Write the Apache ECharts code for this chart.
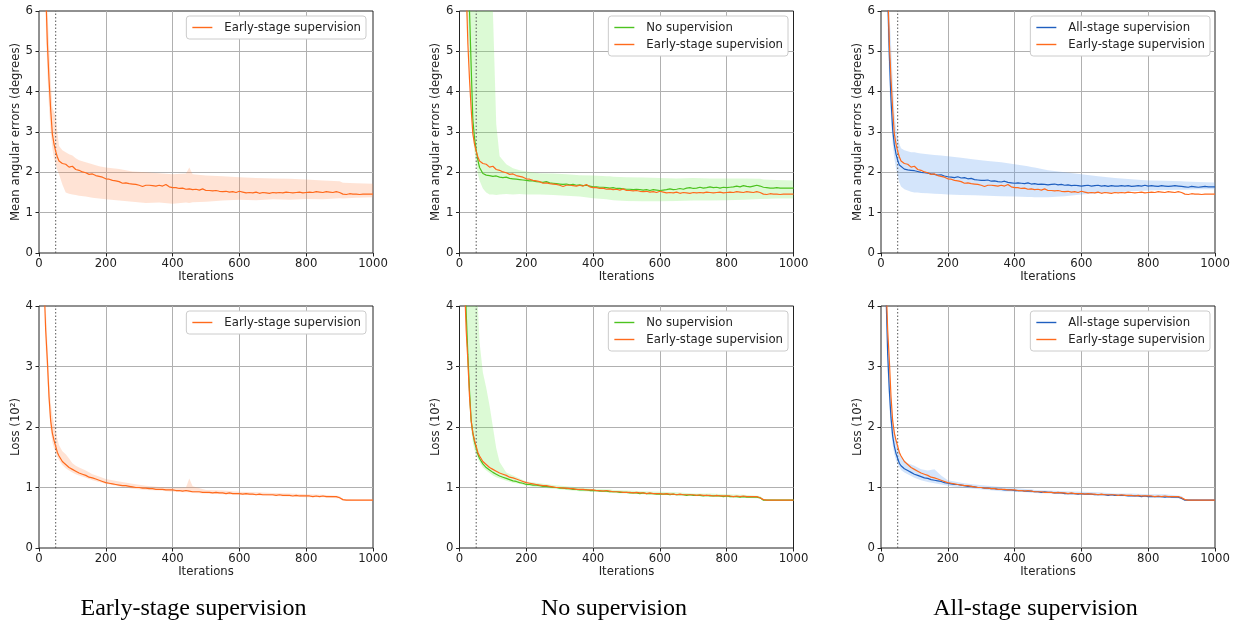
<!DOCTYPE html>
<html>
<head>
<meta charset="utf-8">
<script src="https://cdn.jsdelivr.net/npm/echarts@6/dist/echarts.min.js"></script>
<style>
html,body{margin:0;padding:0;background:#fff;}
#c{width:1238px;height:626px;}
</style>
</head>
<body>
<div id="c"></div>
<script>
// ---------- data ----------
const ITER = [10,15,20,25,30,35,40,45,50,55,
  60,70,80,90,100,110,120,130,140,150,160,170,180,190,200,
  210,220,230,240,250,260,270,280,290,300,
  310,320,330,340,350,360,370,380,390,400,
  410,420,430,440,450,460,470,480,490,500,
  510,520,530,540,550,560,570,580,590,600,
  610,620,630,640,650,660,670,680,690,700,
  710,720,730,740,750,760,770,780,790,800,
  810,820,830,840,850,860,870,880,890,900,
  910,920,930,940,950,960,970,980,990,1000];

// Mean angular errors (degrees)
const errEarly = [11,8.5,6.6,5.2,4.3,3.55,2.95,2.7,2.52,2.38,
  2.28,2.22,2.20,2.13,2.15,2.07,2.05,2.01,1.99,1.95,1.96,1.92,1.90,1.88,1.84,
  1.83,1.80,1.79,1.77,1.73,1.74,1.72,1.71,1.70,1.68,
  1.65,1.68,1.68,1.67,1.66,1.68,1.66,1.70,1.64,1.62,
  1.62,1.60,1.61,1.58,1.59,1.57,1.58,1.56,1.59,1.55,
  1.55,1.54,1.55,1.53,1.52,1.53,1.51,1.52,1.50,1.53,
  1.51,1.49,1.50,1.49,1.51,1.48,1.50,1.49,1.48,1.50,
  1.49,1.50,1.49,1.51,1.50,1.49,1.50,1.51,1.49,1.50,
  1.51,1.50,1.52,1.51,1.50,1.52,1.51,1.50,1.52,1.50,
  1.46,1.45,1.47,1.46,1.46,1.45,1.46,1.46,1.46,1.46];
const errNone = [14,11,9,7.3,6.0,4.6,3.3,2.85,2.55,2.3,
  2.12,1.97,1.93,1.92,1.90,1.91,1.88,1.87,1.88,1.85,1.84,1.83,1.82,1.81,1.80,
  1.79,1.79,1.77,1.76,1.75,1.77,1.74,1.73,1.72,1.71,
  1.70,1.71,1.69,1.70,1.68,1.69,1.67,1.68,1.66,1.64,
  1.64,1.63,1.63,1.62,1.61,1.62,1.60,1.60,1.59,1.58,
  1.58,1.57,1.58,1.57,1.56,1.57,1.55,1.57,1.56,1.55,
  1.56,1.57,1.59,1.57,1.58,1.60,1.58,1.61,1.62,1.60,
  1.61,1.63,1.61,1.62,1.64,1.62,1.63,1.61,1.63,1.62,
  1.63,1.64,1.66,1.64,1.67,1.65,1.64,1.66,1.68,1.66,
  1.63,1.62,1.61,1.61,1.62,1.61,1.61,1.61,1.61,1.61];
const errAll = [11,8.5,6.4,4.9,3.8,3.05,2.68,2.45,2.3,2.18,
  2.14,2.08,2.06,2.05,2.04,2.02,2.00,1.99,1.98,1.96,1.95,1.93,1.94,1.91,1.89,
  1.88,1.87,1.89,1.86,1.87,1.84,1.85,1.82,1.81,1.80,
  1.80,1.81,1.78,1.79,1.77,1.76,1.78,1.75,1.74,1.73,
  1.74,1.73,1.72,1.74,1.71,1.72,1.70,1.71,1.70,1.69,
  1.70,1.71,1.69,1.70,1.68,1.69,1.67,1.68,1.67,1.66,
  1.67,1.68,1.66,1.67,1.68,1.66,1.67,1.65,1.67,1.66,
  1.66,1.67,1.66,1.67,1.65,1.66,1.67,1.66,1.68,1.66,
  1.67,1.66,1.65,1.67,1.66,1.65,1.66,1.67,1.66,1.65,
  1.64,1.63,1.65,1.64,1.63,1.64,1.65,1.64,1.64,1.64];

// Loss (10^2)
const lossEarly = [7,4.4,3.6,3.1,2.5,2.1,1.9,1.78,1.68,1.58,
  1.52,1.43,1.38,1.33,1.30,1.27,1.24,1.22,1.20,1.17,1.16,1.14,1.12,1.10,1.08,
  1.07,1.06,1.05,1.04,1.03,1.03,1.02,1.01,1.00,1.00,
  0.99,0.99,0.98,0.98,0.97,0.97,0.97,0.96,0.96,0.96,
  0.95,0.95,0.94,0.95,0.94,0.93,0.93,0.93,0.92,0.92,
  0.92,0.91,0.92,0.91,0.91,0.90,0.91,0.90,0.90,0.90,
  0.89,0.90,0.89,0.89,0.88,0.89,0.88,0.88,0.88,0.88,
  0.87,0.88,0.87,0.87,0.87,0.86,0.87,0.86,0.86,0.86,
  0.86,0.85,0.86,0.85,0.86,0.85,0.85,0.85,0.85,0.83,
  0.80,0.79,0.79,0.79,0.79,0.79,0.79,0.79,0.79,0.79];
const lossNone = [8,5.2,3.9,3.2,2.6,2.1,1.9,1.75,1.65,1.55,
  1.48,1.39,1.33,1.29,1.25,1.22,1.19,1.17,1.15,1.13,1.11,1.10,1.08,1.07,1.05,
  1.05,1.04,1.04,1.03,1.02,1.02,1.01,1.00,1.00,0.99,
  0.99,0.98,0.98,0.97,0.97,0.96,0.96,0.96,0.95,0.95,
  0.95,0.94,0.94,0.94,0.93,0.93,0.93,0.92,0.92,0.92,
  0.91,0.91,0.91,0.90,0.91,0.90,0.90,0.90,0.89,0.89,
  0.89,0.89,0.88,0.89,0.88,0.88,0.88,0.87,0.88,0.87,
  0.87,0.87,0.86,0.87,0.86,0.86,0.86,0.86,0.85,0.86,
  0.85,0.85,0.85,0.84,0.85,0.84,0.84,0.84,0.84,0.83,
  0.79,0.79,0.79,0.79,0.79,0.79,0.79,0.79,0.79,0.79];
const lossAll = [6,4.2,3.2,2.6,2.15,1.85,1.68,1.56,1.48,1.40,
  1.36,1.31,1.28,1.25,1.22,1.20,1.18,1.16,1.15,1.13,1.12,1.11,1.10,1.08,1.07,
  1.06,1.05,1.05,1.04,1.03,1.02,1.02,1.01,1.00,1.00,
  0.99,0.99,0.98,0.98,0.97,0.97,0.96,0.96,0.96,0.95,
  0.95,0.95,0.94,0.94,0.94,0.93,0.93,0.92,0.93,0.92,
  0.92,0.91,0.91,0.91,0.90,0.90,0.90,0.90,0.89,0.90,
  0.89,0.89,0.89,0.88,0.88,0.88,0.88,0.87,0.88,0.87,
  0.87,0.87,0.87,0.86,0.86,0.86,0.86,0.85,0.86,0.85,
  0.85,0.85,0.85,0.85,0.84,0.85,0.84,0.84,0.84,0.82,
  0.79,0.79,0.79,0.79,0.79,0.79,0.79,0.79,0.79,0.79];

// Shaded spread bands (low / high edges)
const BAND_ITER = [20,25,30,35,40,45,50,55,60,70,80,90,100,110,120,140,160,180,200,240,280,320,360,400,440,450,460,500,550,600,650,700,750,800,850,900,910,950,1000];
const errEarlyLo = [5.8,4.5,3.6,3.0,2.6,2.35,2.2,2.05, 1.95,1.7,1.5,1.47,1.45,1.44,1.42, 1.40,1.37,1.35,1.33, 1.30,1.27,1.24,1.25,1.22, 1.25,1.24,1.26, 1.27,1.30,1.32,1.31,1.33,1.32,1.34,1.33,1.36, 1.35,1.37,1.38];
const errEarlyHi = [8,6.5,5.2,4.3,3.6,3.5,3.4,3.0, 2.65,2.55,2.5,2.45,2.42,2.35,2.3, 2.25,2.2,2.15,2.12, 2.08,2.02,2.0,1.98,1.95, 1.97,2.12,1.95, 1.92,1.9,1.88,1.86,1.85,1.84,1.82,1.8,1.78, 1.74,1.73,1.72];
const errNoneLo = [7,5.5,4.6,3.6,2.9,2.5,2.2,1.95, 1.8,1.6,1.5,1.45,1.45,1.44,1.45, 1.46,1.45,1.46,1.45, 1.45,1.44,1.42,1.40,1.36, 1.33,1.32,1.31, 1.29,1.28,1.28,1.29,1.30,1.30,1.31,1.32,1.34, 1.34,1.35,1.35];
const errNoneHi = [12,12,12,12,12,12,12,12, 12,12,12,12,9,3.2,2.4, 2.2,2.1,2.05,2.02, 1.98,1.97,1.95,1.93,1.92, 1.9,1.9,1.89, 1.88,1.87,1.86,1.85,1.86,1.85,1.85,1.85,1.84, 1.82,1.81,1.8];
const errAllLo = [5.5,4.2,3.3,2.7,2.35,2.1,1.9,1.75, 1.65,1.58,1.55,1.52,1.5,1.5,1.49, 1.48,1.47,1.46,1.45, 1.44,1.43,1.42,1.41,1.40, 1.39,1.39,1.38, 1.38,1.41,1.45,1.48,1.50,1.53,1.55,1.56,1.57, 1.57,1.58,1.58];
const errAllHi = [8,6.5,5.2,4.3,3.5,3.1,2.85,2.7, 2.6,2.55,2.52,2.5,2.5,2.48,2.47, 2.45,2.43,2.42,2.4, 2.36,2.32,2.28,2.25,2.2, 2.15,2.13,2.12, 2.05,2.0,1.95,1.9,1.86,1.83,1.8,1.79,1.78, 1.77,1.76,1.75];
const lossEarlyLo = [3.3,2.85,2.3,1.95,1.75,1.65,1.58,1.5, 1.45,1.37,1.32,1.28,1.25,1.22,1.2, 1.16,1.12,1.09,1.06, 1.02,0.98,0.96,0.95,0.93, 0.92,0.92,0.91, 0.9,0.89,0.88,0.87,0.86,0.85,0.84,0.84,0.82, 0.78,0.78,0.78];
const lossEarlyHi = [4.0,3.4,2.8,2.4,2.2,2.05,1.95,1.8, 1.7,1.6,1.55,1.48,1.4,1.36,1.33, 1.28,1.22,1.18,1.14, 1.10,1.06,1.03,1.01,0.99, 1.0,1.15,1.02, 0.96,0.95,0.93,0.92,0.91,0.9,0.89,0.88,0.86, 0.81,0.8,0.8];
const lossNoneLo = [3.5,2.9,2.35,1.95,1.75,1.62,1.55,1.47, 1.42,1.33,1.28,1.24,1.2,1.17,1.15, 1.11,1.08,1.06,1.03, 1.0,0.98,0.96,0.94,0.93, 0.92,0.91,0.91, 0.9,0.89,0.88,0.87,0.86,0.85,0.84,0.83,0.82, 0.78,0.78,0.78];
const lossNoneHi = [5,4.6,4.4,4.3,4.2,4.15,4.1,4.0, 3.4,2.9,2.65,2.35,2.0,1.65,1.42, 1.25,1.2,1.15,1.1, 1.07,1.04,1.02,1.0,0.98, 0.97,0.97,0.96, 0.95,0.94,0.93,0.92,0.9,0.9,0.89,0.88,0.86, 0.81,0.8,0.8];
const lossAllLo = [2.9,2.35,1.95,1.7,1.55,1.45,1.38,1.33, 1.29,1.25,1.22,1.19,1.16,1.14,1.12, 1.09,1.07,1.05,1.03, 1.0,0.98,0.96,0.94,0.93, 0.92,0.91,0.91, 0.9,0.89,0.88,0.87,0.86,0.85,0.84,0.83,0.82, 0.78,0.78,0.78];
const lossAllHi = [3.6,3.0,2.5,2.15,1.95,1.8,1.7,1.6, 1.5,1.45,1.4,1.38,1.36,1.33,1.3, 1.28,1.3,1.2,1.12, 1.08,1.05,1.03,1.01,0.99, 0.97,0.97,0.96, 0.95,0.94,0.93,0.92,0.9,0.9,0.89,0.89,0.86, 0.81,0.8,0.8];

const MARKER_ITER = 50;
const NAMES = {early:'Early-stage supervision', none:'No supervision', all:'All-stage supervision'};
const CAPTIONS = ['Early-stage supervision','No supervision','All-stage supervision'];
const Y_NAMES = ['Mean angular errors (degrees)','Loss (10²)'];
const Y_MAX = [6,4];

// ---------- styling ----------
const COL = {early:'#ff6a1c', none:'#4cc31f', all:'#1f5fbf'};
const BAND_COL = {early:'rgba(255,140,80,0.24)', none:'rgba(110,235,80,0.24)', all:'rgba(100,160,240,0.28)'};
const FONT = 'DejaVu Sans';
const GRID_LEFT = [39, 459.5, 881];
const GRID_TOP = [11, 306];
const GW = 334, GH = 242;
const LEG_RIGHT = [872, 450, 28];
const CAP_X = [193.5, 614, 1035.5];

const panels = [
  {row:0,col:0, band:['early',errEarlyLo,errEarlyHi], lines:[['early',errEarly]]},
  {row:0,col:1, band:['none',errNoneLo,errNoneHi], lines:[['none',errNone],['early',errEarly]]},
  {row:0,col:2, band:['all',errAllLo,errAllHi], lines:[['all',errAll],['early',errEarly]]},
  {row:1,col:0, band:['early',lossEarlyLo,lossEarlyHi], lines:[['early',lossEarly]]},
  {row:1,col:1, band:['none',lossNoneLo,lossNoneHi], lines:[['none',lossNone],['early',lossEarly]]},
  {row:1,col:2, band:['all',lossAllLo,lossAllHi], lines:[['all',lossAll],['early',lossEarly]]}
];

const grid=[], xAxis=[], yAxis=[], series=[], legend=[];
panels.forEach((p,i)=>{
  const ymax = Y_MAX[p.row];
  grid.push({left:GRID_LEFT[p.col], top:GRID_TOP[p.row], width:GW, height:GH,
    show:true, borderColor:'#222', borderWidth:1, backgroundColor:'transparent', containLabel:false});
  xAxis.push({type:'value', gridIndex:i, min:0, max:1000, interval:200,
    name:'Iterations', nameLocation:'middle', nameGap:18,
    nameTextStyle:{fontSize:11.7, color:'#222', fontFamily:FONT},
    axisLine:{show:false}, axisTick:{show:true, length:3.5, lineStyle:{color:'#222'}},
    axisLabel:{fontSize:11.7, color:'#222', margin:5, fontFamily:FONT, formatter:(v)=>String(v)},
    splitLine:{show:true, showMinLine:false, showMaxLine:false, lineStyle:{color:'#b0b0b0', width:1}}});
  yAxis.push({type:'value', gridIndex:i, min:0, max:ymax, interval:1,
    name:Y_NAMES[p.row], nameLocation:'middle', nameGap:13, nameRotate:90,
    nameTextStyle:{fontSize:11.7, color:'#222', fontFamily:FONT},
    axisLine:{show:false}, axisTick:{show:true, length:3.5, lineStyle:{color:'#222'}},
    axisLabel:{fontSize:11.7, color:'#222', margin:6, fontFamily:FONT, formatter:(v)=>String(v)},
    splitLine:{show:true, showMinLine:false, showMaxLine:false, lineStyle:{color:'#b0b0b0', width:1}}});
  // band
  const [bk, lo, hi] = p.band;
  series.push({type:'custom', xAxisIndex:i, yAxisIndex:i, silent:true, clip:true, z:1,
    data:[[0,0]],
    renderItem:(params, api)=>{
      const pts=[];
      for(let k=0;k<BAND_ITER.length;k++) pts.push(api.coord([BAND_ITER[k], Math.min(hi[k], ymax)]));
      for(let k=BAND_ITER.length-1;k>=0;k--) pts.push(api.coord([BAND_ITER[k], Math.min(lo[k], ymax)]));
      return {type:'polygon', shape:{points:pts}, style:{fill:BAND_COL[bk], stroke:null}};
    }});
  // marker line
  series.push({type:'line', xAxisIndex:i, yAxisIndex:i, silent:true, z:2, symbol:'none',
    data:[[MARKER_ITER,0],[MARKER_ITER,ymax]],
    lineStyle:{color:'#555', width:1, type:[1.5,2]}});
  // lines
  p.lines.forEach(([k, vals], j)=>{
    series.push({type:'line', name:NAMES[k], xAxisIndex:i, yAxisIndex:i, z:3+j,
      symbol:'none', showSymbol:false, clip:true, animation:false,
      data: ITER.map((x,n)=>[x, vals[n]]),
      itemStyle:{color:COL[k]},
      lineStyle:{color:COL[k], width:1.2}});
  });
  legend.push({orient:'vertical', right:LEG_RIGHT[p.col], top:GRID_TOP[p.row]+5,
    backgroundColor:'#fff', borderColor:'#cccccc', borderWidth:1, borderRadius:3,
    padding:[5,5,5,6], itemGap:4, itemWidth:20, itemHeight:1.4, icon:'rect',
    selectedMode:false,
    textStyle:{fontSize:11.7, color:'#222', fontFamily:FONT, padding:[0,0,0,7], lineHeight:13},
    data:p.lines.map(([k])=>NAMES[k])});
});

const graphic = CAPTIONS.map((t,c)=>({type:'text', x:CAP_X[c], y:609,
  style:{text:t, textAlign:'center', textVerticalAlign:'middle', font:'24px "Liberation Serif"', fill:'#000'}}));

const chart = echarts.init(document.getElementById('c'), null, {renderer:'canvas'});
chart.setOption({
  animation:false,
  textStyle:{fontFamily:FONT},
  grid, xAxis, yAxis, series, legend, graphic
});
</script>
</body>
</html>
